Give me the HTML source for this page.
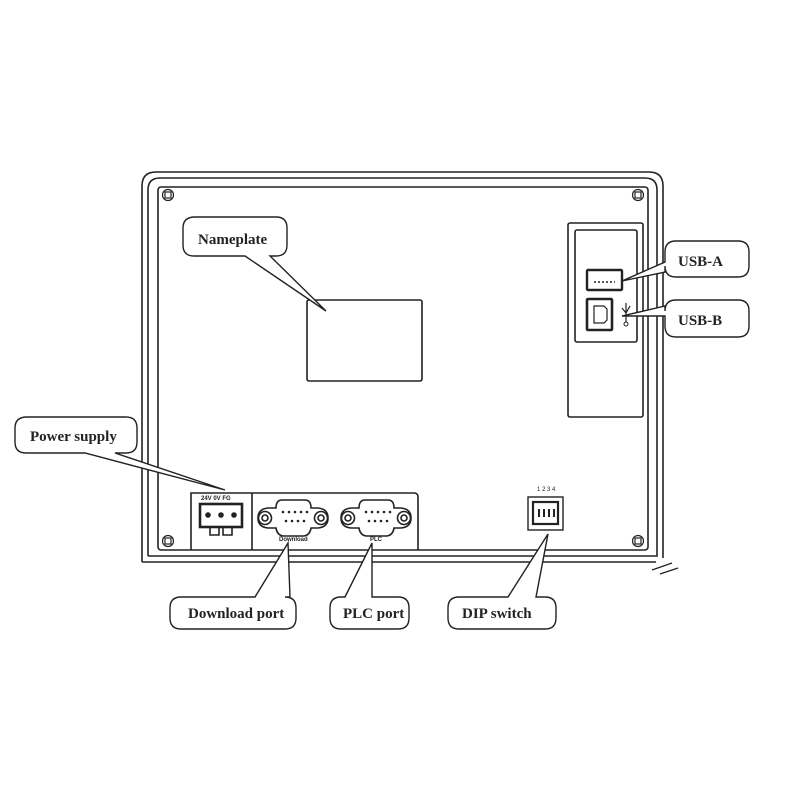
<!DOCTYPE html>
<html><head><meta charset="utf-8"><style>html,body{margin:0;padding:0;background:#fff}svg{display:block}</style></head>
<body>
<svg width="800" height="800" viewBox="0 0 800 800" xmlns="http://www.w3.org/2000/svg" font-family="'Liberation Serif', serif">
<g fill="none" stroke="#222" stroke-width="1.6">
<path d="M142 562 V186 Q142 172 156 172 H649 Q663 172 663 186 V558"/>
<path d="M148 556 V190 Q148 178 160 178 H645 Q657 178 657 190 V556 H148"/>
<path d="M142 562 H656"/>
<path d="M652 570 L672 563 M660 574 L678 568" stroke-width="1.2"/>
<rect x="158" y="187" width="490" height="363" rx="3"/>
<g stroke-width="1.2">
<circle cx="168" cy="195" r="5.5"/><rect x="165" y="192" width="6" height="6"/>
<circle cx="638" cy="195" r="5.5"/><rect x="635" y="192" width="6" height="6"/>
<circle cx="168" cy="541" r="5.5"/><rect x="165" y="538" width="6" height="6"/>
<circle cx="638" cy="541" r="5.5"/><rect x="635" y="538" width="6" height="6"/>
</g>
<rect x="307" y="300" width="115" height="81" rx="2"/>
<rect x="568" y="223" width="75" height="194" rx="2"/>
<rect x="575" y="230" width="62" height="112" rx="2"/>
<rect x="587" y="270" width="35" height="20" rx="1" stroke-width="2.4"/>
<path d="M594 282 H615" stroke-dasharray="2 2"/>
<rect x="587" y="299" width="25" height="31" rx="1" stroke-width="2.6"/>
<path d="M594 306 H604 L607 309 V320 L604 323 H594 Z" stroke-width="1.2"/>
<path d="M626 303 V322 M622 308 L626 313 L630 306" stroke-width="1.2"/>
<circle cx="626" cy="324" r="2" stroke-width="1"/>
<path d="M191 550 V493 H414 Q418 493 418 497 V550"/>
<path d="M252 493 V550"/>
<rect x="200" y="504" width="42" height="23" stroke-width="2.6"/>
<path d="M210 527 V535 H219 V527 M223 527 V535 H232 V527" stroke-width="1.6"/>
<g>
<circle cx="265" cy="518" r="6.5"/><circle cx="265" cy="518" r="3"/>
<circle cx="321" cy="518" r="6.5"/><circle cx="321" cy="518" r="3"/>
<path d="M258 518 Q258 509 268 508 L276 508 Q276 500 282 500 H305 Q311 500 311 508 L318 508 Q328 509 328 518 Q328 527 318 528 L311 528 Q310 535 304 536 H283 Q277 535 276 528 L268 528 Q258 527 258 518Z"/>
</g>
<g>
<circle cx="348" cy="518" r="6.5"/><circle cx="348" cy="518" r="3"/>
<circle cx="404" cy="518" r="6.5"/><circle cx="404" cy="518" r="3"/>
<path d="M341 518 Q341 509 351 508 L359 508 Q359 500 365 500 H388 Q394 500 394 508 L401 508 Q411 509 411 518 Q411 527 401 528 L394 528 Q393 535 387 536 H366 Q360 535 359 528 L351 528 Q341 527 341 518Z"/>
</g>
<rect x="528" y="497" width="35" height="33" stroke-width="1.4"/>
<rect x="533" y="502" width="25" height="22" stroke-width="2.2"/>
<path d="M539 509 V517 M544 509 V517 M549 509 V517 M554 509 V517" stroke-width="2"/>
<g stroke-width="1.4" fill="#fff">
<path d="M195 217 H276 Q287 217 287 228 V245 Q287 256 276 256 H270 L326 311 L245 256 H194 Q183 256 183 245 V228 Q183 217 195 217Z"/>
<path d="M27 417 H126 Q137 417 137 428 V442 Q137 453 126 453 H115 L225 490 L85 453 H26 Q15 453 15 442 V428 Q15 417 27 417Z"/>
<path d="M676 241 H738 Q749 241 749 252 V266 Q749 277 738 277 H676 Q665 277 665 266 V272 L622 281 L665 262 V252 Q665 241 676 241Z"/>
<path d="M676 300 H738 Q749 300 749 311 V326 Q749 337 738 337 H676 Q665 337 665 326 V316 L622 316 L665 306 V311 Q665 300 676 300Z"/>
<path d="M181 597 H255 L288 543 L290 597 H285 Q296 597 296 608 V618 Q296 629 285 629 H181 Q170 629 170 618 V608 Q170 597 181 597Z"/>
<path d="M341 597 H345 L372 543 L372 597 H398 Q409 597 409 608 V618 Q409 629 398 629 H341 Q330 629 330 618 V608 Q330 597 341 597Z"/>
<path d="M459 597 H508 L548 534 L536 597 H545 Q556 597 556 608 V618 Q556 629 545 629 H459 Q448 629 448 618 V608 Q448 597 459 597Z"/>
</g>
</g>
<g fill="#222">
<circle cx="208" cy="515" r="2.8"/><circle cx="221" cy="515" r="2.8"/><circle cx="234" cy="515" r="2.8"/>
<g>
<circle cx="283" cy="512" r="1.3"/><circle cx="289" cy="512" r="1.3"/><circle cx="295" cy="512" r="1.3"/><circle cx="301" cy="512" r="1.3"/><circle cx="307" cy="512" r="1.3"/>
<circle cx="286" cy="521" r="1.3"/><circle cx="292" cy="521" r="1.3"/><circle cx="298" cy="521" r="1.3"/><circle cx="304" cy="521" r="1.3"/>
<circle cx="366" cy="512" r="1.3"/><circle cx="372" cy="512" r="1.3"/><circle cx="378" cy="512" r="1.3"/><circle cx="384" cy="512" r="1.3"/><circle cx="390" cy="512" r="1.3"/>
<circle cx="369" cy="521" r="1.3"/><circle cx="375" cy="521" r="1.3"/><circle cx="381" cy="521" r="1.3"/><circle cx="387" cy="521" r="1.3"/>
</g>
<text x="201" y="500" font-size="6" font-family="'Liberation Sans', sans-serif" font-weight="bold">24V 0V  FG</text>
<text x="279" y="541" font-size="6" font-family="'Liberation Sans', sans-serif" font-weight="bold">Download</text>
<text x="370" y="541" font-size="6" font-family="'Liberation Sans', sans-serif" font-weight="bold">PLC</text>
<text x="537" y="491" font-size="6" font-family="'Liberation Sans', sans-serif">1 2 3 4</text>
<g font-size="15" font-weight="bold">
<text x="198" y="244">Nameplate</text>
<text x="30" y="441">Power supply</text>
<text x="678" y="266">USB-A</text>
<text x="678" y="325">USB-B</text>
<text x="188" y="618">Download port</text>
<text x="343" y="618">PLC port</text>
<text x="462" y="618">DIP switch</text>
</g>
</g>
</svg>
</body></html>
